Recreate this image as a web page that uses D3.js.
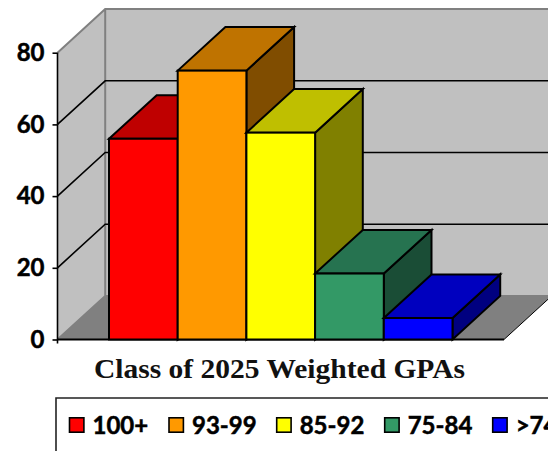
<!DOCTYPE html>
<html><head><meta charset="utf-8">
<script src="https://cdnjs.cloudflare.com/ajax/libs/d3/7.8.5/d3.min.js"></script>
<style>html,body{margin:0;padding:0;background:#fff;overflow:hidden}svg{display:block}</style>
</head><body><svg id="c" width="548" height="451"></svg>
<script>
const categories = ["100+","93-99","85-92","75-84",">74"];
const values = [56,75,57.7,18.4,6];
const frontColors = ["#ff0000","#ff9900","#ffff00","#339966","#0000ff"];
const topColors = ["#bf0000","#bf7300","#bfbf00","#267350","#0000bf"];
const sideColors = ["#800000","#804d00","#808000","#1a4d36","#000080"];
const yTicks = [0,20,40,60,80];
const titleText = "Class of 2025 Weighted GPAs";

const svg = d3.select("#c");
const dx = 47.7, dy = 43.6;
const y = d3.scaleLinear().domain([0,80]).range([339.5,52.7]);
const x = d3.scaleBand().domain(categories).range([109,452.5]).paddingInner(0).paddingOuter(0);
const x0 = 57.5, xEnd = 504;
const poly = pts => "M"+pts.map(p=>p.join(",")).join("L")+"Z";

svg.append("path").attr("d",poly([[x0+dx,y(80)-dy],[xEnd+dx+10,y(80)-dy],[xEnd+dx+10,y(0)-dy],[x0+dx,y(0)-dy]])).attr("fill","#c0c0c0");
svg.append("path").attr("d",poly([[x0,y(80)],[x0+dx,y(80)-dy],[x0+dx,y(0)-dy],[x0,y(0)]])).attr("fill","#c0c0c0");
svg.append("path").attr("d",poly([[x0,y(0)],[x0+dx,y(0)-dy],[xEnd+dx,y(0)-dy],[xEnd,y(0)]])).attr("fill","#808080");
svg.append("path").attr("d",`M${x0},${y(80)}L${x0+dx},${y(80)-dy}L560,${y(80)-dy}M${x0+dx},${y(80)-dy}V${y(0)-dy}L${x0},${y(0)}M${x0+dx},${y(0)-dy}H560`)
  .attr("fill","none").attr("stroke","#808080").attr("stroke-width",2);
yTicks.filter(t=>t>0&&t<80).forEach(t=>{
  svg.append("path").attr("d",`M${x0},${y(t)}L${x0+dx},${y(t)-dy}H560`).attr("fill","none").attr("stroke","#000").attr("stroke-width",1.6);
});
svg.append("path").attr("d",`M${xEnd},${y(0)}L${xEnd+dx},${y(0)-dy}`).attr("fill","none").attr("stroke","#000").attr("stroke-width",1);

const yAxis = d3.axisLeft(y).tickValues(yTicks).tickSize(5).tickPadding(8).tickFormat(d3.format("d"));
const gy = svg.append("g").attr("transform",`translate(${x0},0)`).call(yAxis);
gy.select(".domain").attr("stroke","#000").attr("stroke-width",1.6).attr("d",`M0,${y(80)}V${y(0)+4}`);
gy.selectAll(".tick line").attr("stroke","#000").attr("stroke-width",1.6);
gy.selectAll(".tick text").attr("font-family","Lato").attr("font-weight",700).attr("font-size",24).attr("fill","#000").attr("stroke","#000").attr("stroke-width",0.5);
svg.append("line").attr("x1",x0).attr("x2",xEnd).attr("y1",y(0)).attr("y2",y(0)).attr("stroke","#000").attr("stroke-width",2);

const bars = svg.append("g").selectAll("g").data(categories).join("g");
const st = s => s.attr("stroke","#000").attr("stroke-width",2).attr("stroke-linejoin","miter");
bars.each(function(c,i){
  const g = d3.select(this), l = x(c), r = l + x.bandwidth(), t = y(values[i]), b = y(0);
  g.append("path").attr("d",poly([[r,t],[r+dx,t-dy],[r+dx,b-dy],[r,b]])).attr("fill",sideColors[i]).call(st);
  g.append("path").attr("d",poly([[l,t],[l+dx,t-dy],[r+dx,t-dy],[r,t]])).attr("fill",topColors[i]).call(st);
  g.append("rect").attr("x",l).attr("y",t).attr("width",r-l).attr("height",b-t).attr("fill",frontColors[i]).call(st);
});

svg.append("text").attr("x",94).attr("y",377.7).attr("textLength",371).attr("lengthAdjust","spacingAndGlyphs")
  .attr("font-family","Liberation Serif").attr("font-weight",700).attr("font-size",27).attr("fill","#111").text(titleText);

svg.append("path").attr("d","M56,460V398H560").attr("fill","none").attr("stroke","#222").attr("stroke-width",1.6);
const legendX = [69.5,169,276.7,384.7,492.7];
const lg = svg.append("g").selectAll("g").data(categories).join("g").attr("transform",(d,i)=>`translate(${legendX[i]},425)`);
lg.append("rect").attr("y",-7.2).attr("width",14.4).attr("height",14.4).attr("fill",(d,i)=>frontColors[i]).attr("stroke","#000").attr("stroke-width",1.6);
lg.append("text").attr("x",23).attr("y",8.7).attr("font-family","Lato").attr("font-weight",700).attr("font-size",24).attr("fill","#000").attr("stroke","#000").attr("stroke-width",0.5).text(d=>d);
</script></body></html>
